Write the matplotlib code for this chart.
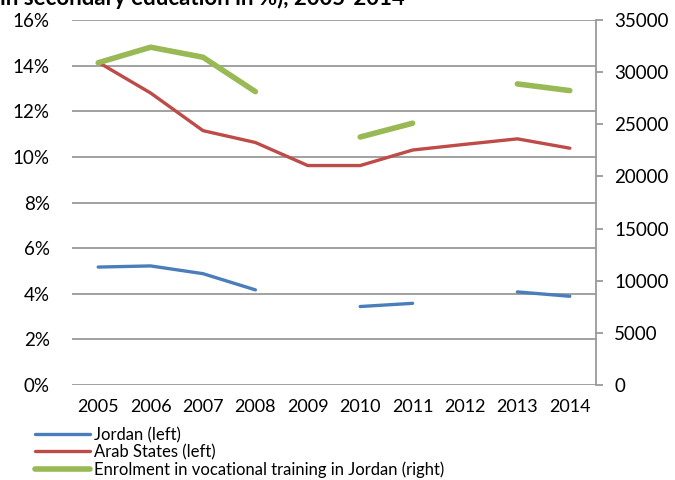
import numpy as np
import matplotlib.pyplot as plt

plt.rcParams['font.family'] = ['Lato', 'DejaVu Sans']

#%%==============================================================================
# Data (NaN = no value reported)

years = [2005, 2006, 2007, 2008, 2009, 2010, 2011, 2012, 2013, 2014]

jordan = [5.17, 5.22, 4.88, 4.17, np.nan, 3.44, 3.58, np.nan, 4.08, 3.89]
arab_states = [14.15, 12.8, 11.15, 10.63, 9.62, 9.62, 10.3, 10.55, 10.79, 10.38]
enrolment = [30900, 32390, 31430, 28130, np.nan, 23780, 25100, np.nan, 28870, 28230]

labels = ["Jordan (left)", "Arab States (left)",
          "Enrolment in vocational training in Jordan (right)"]
title = "in secondary education in %), 2005-2014"

#%%==============================================================================
# Plot

c_blue = "#4A7EBB"
c_red = "#BE4B48"
c_green = "#98B954"
c_grid = "#9A9A9A"

fig = plt.figure(figsize=(6.75, 4.8), dpi=100)
ax = fig.add_axes([72 / 675, 1 - 385 / 480, 524 / 675, 365 / 480])
ax2 = ax.twinx()

x = np.arange(len(years))

l1, = ax.plot(x, jordan, color=c_blue, lw=2.4, solid_capstyle="round")
l2, = ax.plot(x, arab_states, color=c_red, lw=2.4, solid_capstyle="round")
l3, = ax2.plot(x, enrolment, color=c_green, lw=4.0, solid_capstyle="round")

ax.set_xlim(-0.5, len(years) - 0.5)
ax.set_ylim(0, 16)
ax.set_yticks(np.arange(0, 17, 2))
ax.set_yticklabels(["%d%%" % v for v in range(0, 17, 2)])
ax.set_xticks(x)
ax.set_xticklabels([str(y) for y in years])
ax.grid(axis="y", color=c_grid, lw=1.3)
ax.set_axisbelow(True)

ax2.set_ylim(0, 35000)
ax2.set_yticks(np.arange(0, 35001, 5000))

for a in (ax, ax2):
    for s in a.spines.values():
        s.set_visible(False)
ax2.spines["right"].set_visible(True)
ax2.spines["right"].set_color(c_grid)
ax2.spines["right"].set_linewidth(1.3)

ax.tick_params(axis="y", length=0, labelsize=13.5, pad=16)
ax.tick_params(axis="x", length=0, labelsize=13, pad=10)
ax2.tick_params(axis="y", length=5, width=1.3, color=c_grid, labelsize=13.5, pad=8)

fig.text(0.0, 1 - 5 / 480, title, fontsize=16, fontweight="bold",
         ha="left", va="baseline")

fig.legend([l1, l2, l3], labels, loc="upper left",
           bbox_to_anchor=(35 / 675, 1 - 427 / 480), frameon=False,
           fontsize=12, handlelength=3.3, handletextpad=0.25,
           labelspacing=0.06, borderpad=0, borderaxespad=0)

plt.savefig("out.png", dpi=100)
